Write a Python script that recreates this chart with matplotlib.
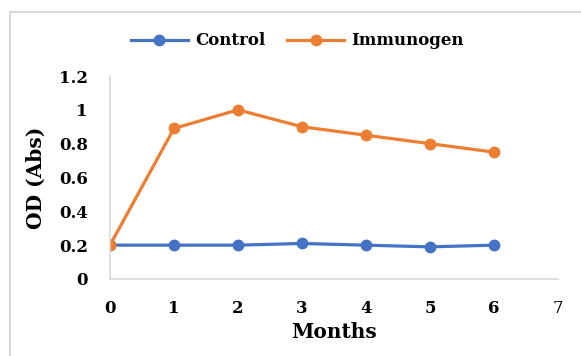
import matplotlib
matplotlib.use("Agg")
import matplotlib.pyplot as plt
from matplotlib.lines import Line2D

# data
months = [0, 1, 2, 3, 4, 5, 6]
control = [0.2, 0.2, 0.2, 0.21, 0.2, 0.19, 0.2]
immunogen = [0.2, 0.89, 1.0, 0.9, 0.85, 0.8, 0.75]
x_ticks = [0, 1, 2, 3, 4, 5, 6, 7]
y_ticks = [0, 0.2, 0.4, 0.6, 0.8, 1, 1.2]
y_tick_labels = ['0', '0.2', '0.4', '0.6', '0.8', '1', '1.2']

# the original text is a wide-looking Times; DejaVu Serif gets closer in width
plt.rcParams['font.family'] = ['DejaVu Serif']

fig = plt.figure(figsize=(5.81, 3.56), dpi=100)
ax = fig.add_axes([0.1893, 0.2163, 0.7711, 0.5702])

ax.plot(months, control, color='#4472C4', lw=2.3, marker='o', ms=7.5, label='Control')
ax.plot(months, immunogen, color='#ED7D31', lw=2.3, marker='o', ms=7.5, label='Immunogen')

ax.set_xlim(0, 7)
ax.set_ylim(0, 1.2)
ax.set_xticks(x_ticks)
ax.set_yticks(y_ticks)
ax.set_yticklabels(y_tick_labels)
ax.tick_params(length=0, labelsize=12)
ax.tick_params(axis='y', pad=16)
ax.tick_params(axis='x', pad=15)
for lbl in ax.get_xticklabels() + ax.get_yticklabels():
    lbl.set_fontweight('bold')
ax.get_xticklabels()[-1].set_fontweight('normal')

for s in ['top', 'right']:
    ax.spines[s].set_visible(False)
for s in ['left', 'bottom']:
    ax.spines[s].set_color('#D9D9D9')
    ax.spines[s].set_linewidth(1.2)

ax.set_xlabel('Months', fontsize=14.5, fontweight='bold', labelpad=4)
ax.set_ylabel('OD (Abs)', fontsize=14.5, fontweight='bold', labelpad=9)

leg = fig.legend(loc='center', bbox_to_anchor=(0.512, 0.885), ncol=2, frameon=False,
                 prop={'size': 12, 'weight': 'bold'}, handlelength=3.4,
                 columnspacing=1.3, handletextpad=0.45)
leg.get_texts()[1].set_fontweight('semibold')

# outer chart frame (only top and left visible in the crop)
fig.add_artist(Line2D([0.0172, 0.0172], [0, 0.966], color='#D9D9D9', lw=1.5))
fig.add_artist(Line2D([0.0172, 1], [0.966, 0.966], color='#D9D9D9', lw=1.5))

fig.savefig('out.png', dpi=100)
